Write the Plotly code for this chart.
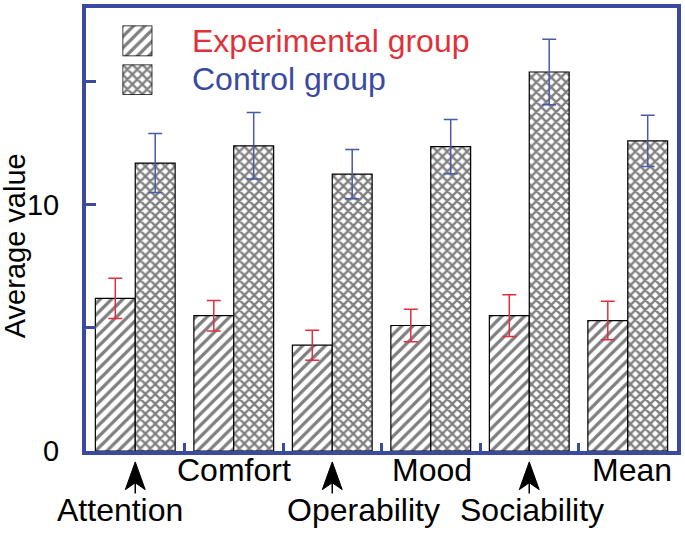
import plotly.graph_objects as go

# ---------------- data ----------------
categories = ["Attention", "Comfort", "Operability", "Mood", "Sociability", "Mean"]
exp_values = [6.2, 5.5, 4.3, 5.1, 5.5, 5.3]
exp_errors = [0.82, 0.62, 0.61, 0.66, 0.85, 0.78]
ctrl_values = [11.7, 12.4, 11.25, 12.37, 15.4, 12.6]
ctrl_errors = [1.2, 1.35, 1.0, 1.1, 1.33, 1.04]
y_tickvals = [0, 5, 10, 15]
y_ticktext = ["0", "", "10", ""]
series_names = ["Experimental group", "Control group"]

# ---------------- style ----------------
BLUE = "#3a4b9f"
RED = "#e0313b"
EBLUE = "#4a5aa8"
FONT = "Liberation Sans, Arial, sans-serif"
W, H = 685, 533
L, R, T, B = 86, 680, 4, 451
PW, PH = R - L, B - T
CAT_PX = PW / len(categories)


def py2paper(py):
    return (B - py) / PH


def px2paper(px):
    return (px - L) / PW


# label rows: 0 = first row under axis, 1 = second row with arrow
label_row = [1, 0, 1, 0, 1, 0]
label_shift = [-15, 0, 31, 1, 3, 4]

EXP_PATTERN = dict(shape="/", size=8, solidity=0.4, fgcolor="black", bgcolor="white")
CTRL_PATTERN = dict(shape="x", size=7, solidity=0.55, fgcolor="black", bgcolor="white")

fig = go.Figure()

fig.add_trace(go.Bar(
    x=categories, y=exp_values, name=series_names[0],
    marker=dict(color="white", line=dict(color="black", width=1.2), pattern=EXP_PATTERN),
    error_y=dict(type="data", array=exp_errors, color=RED, thickness=1.5, width=7),
    showlegend=False,
))
fig.add_trace(go.Bar(
    x=categories, y=ctrl_values, name=series_names[1],
    marker=dict(color="white", line=dict(color="black", width=1.2), pattern=CTRL_PATTERN),
    error_y=dict(type="data", array=ctrl_errors, color=EBLUE, thickness=1.5, width=7),
    showlegend=False,
))

# legend swatches as tiny bar plots
fig.add_trace(go.Bar(
    x=[0], y=[1], width=[1], xaxis="x2", yaxis="y2", showlegend=False, hoverinfo="skip",
    marker=dict(color="white", line=dict(color="black", width=1.5), pattern=EXP_PATTERN),
))
fig.add_trace(go.Bar(
    x=[0], y=[1], width=[1], xaxis="x3", yaxis="y3", showlegend=False, hoverinfo="skip",
    marker=dict(color="white", line=dict(color="black", width=1.5), pattern=CTRL_PATTERN),
))

mini = dict(visible=False, fixedrange=True)
fig.update_layout(
    width=W, height=H,
    margin=dict(l=L, r=W - R, t=T, b=H - B, pad=0),
    paper_bgcolor="white", plot_bgcolor="white",
    barmode="group", bargap=0.19, bargroupgap=0.0,
    font=dict(family=FONT, color="black", size=29),
    xaxis=dict(
        type="category", range=[-0.5, len(categories) - 0.5],
        showline=True, mirror=True, linecolor=BLUE, linewidth=4,
        ticks="inside", tickson="boundaries", ticklen=8, tickwidth=2.5, tickcolor=BLUE,
        showticklabels=False, showgrid=False, zeroline=False,
    ),
    yaxis=dict(
        range=[0, 18],
        showline=True, mirror=True, linecolor=BLUE, linewidth=4,
        ticks="inside", ticklen=10, tickwidth=3, tickcolor=BLUE,
        tickvals=y_tickvals, ticktext=y_ticktext,
        tickfont=dict(size=29, family=FONT, color="black"),
        ticklabelstandoff=17,
        showgrid=False, zeroline=False,
    ),
    xaxis2=dict(domain=[px2paper(122.7), px2paper(152.7)], range=[-0.5, 0.5], anchor="y2", **mini),
    yaxis2=dict(domain=[py2paper(52.7), py2paper(21.7)], range=[0, 1], anchor="x2", **mini),
    xaxis3=dict(domain=[px2paper(122.7), px2paper(152.7)], range=[-0.5, 0.5], anchor="y3", **mini),
    yaxis3=dict(domain=[py2paper(91.5), py2paper(61)], range=[0, 1], anchor="x3", **mini),
)

annotations = []
shapes = []

# legend texts
annotations.append(dict(text=series_names[0], xref="paper", yref="paper",
                        x=px2paper(191), y=py2paper(37), xanchor="left", yanchor="middle",
                        showarrow=False, font=dict(size=32, color=RED, family=FONT)))
annotations.append(dict(text=series_names[1], xref="paper", yref="paper",
                        x=px2paper(191), y=py2paper(76), xanchor="left", yanchor="middle",
                        showarrow=False, font=dict(size=32, color=BLUE, family=FONT)))

# y-axis title
annotations.append(dict(text="Average value", xref="paper", yref="paper",
                        x=px2paper(14), y=py2paper(244), xanchor="center", yanchor="middle",
                        textangle=-90, showarrow=False, font=dict(size=29, family=FONT)))

# category labels and arrows
for i, name in enumerate(categories):
    row = label_row[i]
    ycen = 470 if row == 0 else 511
    annotations.append(dict(text=name, xref="x", yref="paper", x=i, xshift=label_shift[i],
                            y=py2paper(ycen), xanchor="center", yanchor="middle",
                            showarrow=False, font=dict(size=32, family=FONT)))
    if row == 1:
        hw = 10 / CAT_PX
        shapes.append(dict(type="path", xref="x", yref="paper",
                           path=(f"M {i},{py2paper(462)} L {i + hw},{py2paper(490)} "
                                 f"L {i},{py2paper(483)} L {i - hw},{py2paper(490)} Z"),
                           fillcolor="black", line=dict(color="black", width=1)))
        shapes.append(dict(type="line", xref="x", yref="paper",
                           x0=i, x1=i, y0=py2paper(483), y1=py2paper(494),
                           line=dict(color="black", width=1.5)))

fig.update_layout(annotations=annotations, shapes=shapes)
fig.write_html(
    "out.html",
    config={"displayModeBar": False},
    post_script="document.body.style.margin='0';document.body.style.overflow='hidden';",
)
